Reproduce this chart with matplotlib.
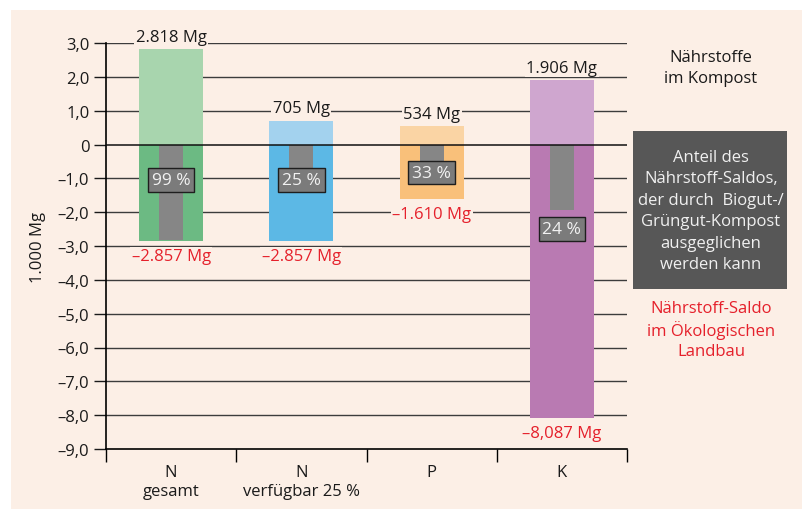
import matplotlib.pyplot as plt
from matplotlib.patches import Rectangle

plt.rcParams['font.family'] = ['Open Sans', 'DejaVu Sans']

categories = ['N\ngesamt', 'N\nverfügbar 25 %', 'P', 'K']
kompost = [2.818, 0.705, 0.534, 1.906]        # 1.000 Mg, Nährstoffe im Kompost
saldo = [-2.857, -2.857, -1.610, -8.087]      # 1.000 Mg, Nährstoff-Saldo
anteil = [99, 25, 33, 24]                     # % ausgeglichen
kompost_lbl = ['2.818 Mg', '705 Mg', '534 Mg', '1.906 Mg']
saldo_lbl = ['–2.857 Mg', '–2.857 Mg', '–1.610 Mg', '–8,087 Mg']
yticks = [3, 2, 1, 0, -1, -2, -3, -4, -5, -6, -7, -8, -9]
ytick_lbl = ['3,0', '2,0', '1,0', '0', '–1,0', '–2,0', '–3,0', '–4,0',
             '–5,0', '–6,0', '–7,0', '–8,0', '–9,0']
legend_box = ['Anteil des', 'Nährstoff-Saldos,', 'der durch  Biogut-/',
              'Grüngut-Kompost', 'ausgeglichen', 'werden kann']
legend_red = ['Nährstoff-Saldo', 'im Ökologischen', 'Landbau']
legend_top = ['Nährstoffe', 'im Kompost']

light = ['#a8d5ae', '#a3d2ee', '#fad4a4', '#cfa6cf']
dark = ['#6cba83', '#5cb8e5', '#f9c07a', '#b97ab2']
peach = '#fcefe6'
pct_y = [-1.05, -1.05, -0.83, -2.5]   # placement of the % boxes

fig = plt.figure(figsize=(8.06, 5.1), dpi=100, facecolor='white')
fig.patches.append(Rectangle((11 / 806, 0), (802 - 11) / 806, 1 - 11 / 510,
                             transform=fig.transFigure, facecolor=peach,
                             edgecolor='none', zorder=-5))
ax = fig.add_axes([106 / 806, 1 - 450 / 510, (627 - 106) / 806, (450 - 44) / 510])
ax.set_facecolor('none')
ax.set_zorder(2)

x = list(range(len(categories)))
ax.set_xlim(-0.5, 3.5)
ax.set_ylim(-9, 3)

for yv in yticks:
    if yv != 0 and yv != -9:
        ax.axhline(yv, color='#3c3c3c', lw=1.0, zorder=1)

w = 0.49
ax.bar(x, kompost, width=w, color=light, zorder=2)
ax.bar(x, saldo, width=w, color=dark, zorder=2)
gray = [s * p / 100 for s, p in zip(saldo, anteil)]
ax.bar(x, gray, width=0.185, color='#868686', zorder=3)
ax.axhline(0, color='#111111', lw=1.1, zorder=4)

box = dict(facecolor=peach, edgecolor='none', pad=1)
for i in x:
    ax.annotate(kompost_lbl[i], (i, kompost[i]), xytext=(0, 3),
                textcoords='offset points', ha='center', va='bottom',
                fontsize=12, color='#1a1a1a', bbox=box, zorder=5)
    ax.annotate(saldo_lbl[i], (i, saldo[i]), xytext=(0, -5),
                textcoords='offset points', ha='center', va='top',
                fontsize=12, color='#e5202b', bbox=box, zorder=5)
    ax.text(i, pct_y[i], f'{anteil[i]} %', ha='center', va='center',
            fontsize=12.5, color='#f2f2f2', zorder=6,
            bbox=dict(facecolor='#7b7b7b', edgecolor='#1e1e1e', lw=1,
                      boxstyle='square,pad=0.22'))

ax.set_yticks(yticks)
ax.set_yticklabels(ytick_lbl, fontsize=12, color='#1a1a1a')
ax.tick_params(axis='y', length=9, width=1, pad=3, color='#1a1a1a')
ax.set_xticks([-0.5, 0.5, 1.5, 2.5, 3.5])
ax.set_xticklabels([])
ax.tick_params(axis='x', which='major', length=9, width=1, direction='out')
ax.set_xticks(x, minor=True)
ax.set_xticklabels(categories, minor=True, fontsize=12, color='#1a1a1a',
                   linespacing=1.25)
ax.tick_params(axis='x', which='minor', length=0, pad=11)
ax.set_ylabel('1.000 Mg', fontsize=12, color='#1a1a1a', labelpad=8)

for side in ['top', 'right']:
    ax.spines[side].set_visible(False)
ax.spines['left'].set_linewidth(1.2)
ax.spines['bottom'].set_linewidth(1.2)

fig.patches.append(Rectangle((633 / 806, 1 - 290 / 510), (787 - 633) / 806,
                             (290 - 132) / 510, transform=fig.transFigure,
                             facecolor='#575757', edgecolor='none', zorder=1))


def lines(texts, y0, color):
    for k, t in enumerate(texts):
        fig.text(711 / 806, 1 - (y0 + 21.4 * k) / 510, t, ha='center',
                 va='center', fontsize=12, color=color, zorder=2)


lines(legend_top, 58, '#1a1a1a')
lines(legend_box, 158, '#f0f0f0')
lines(legend_red, 309, '#e5202b')

fig.savefig('out.png', dpi=100, facecolor='white')
